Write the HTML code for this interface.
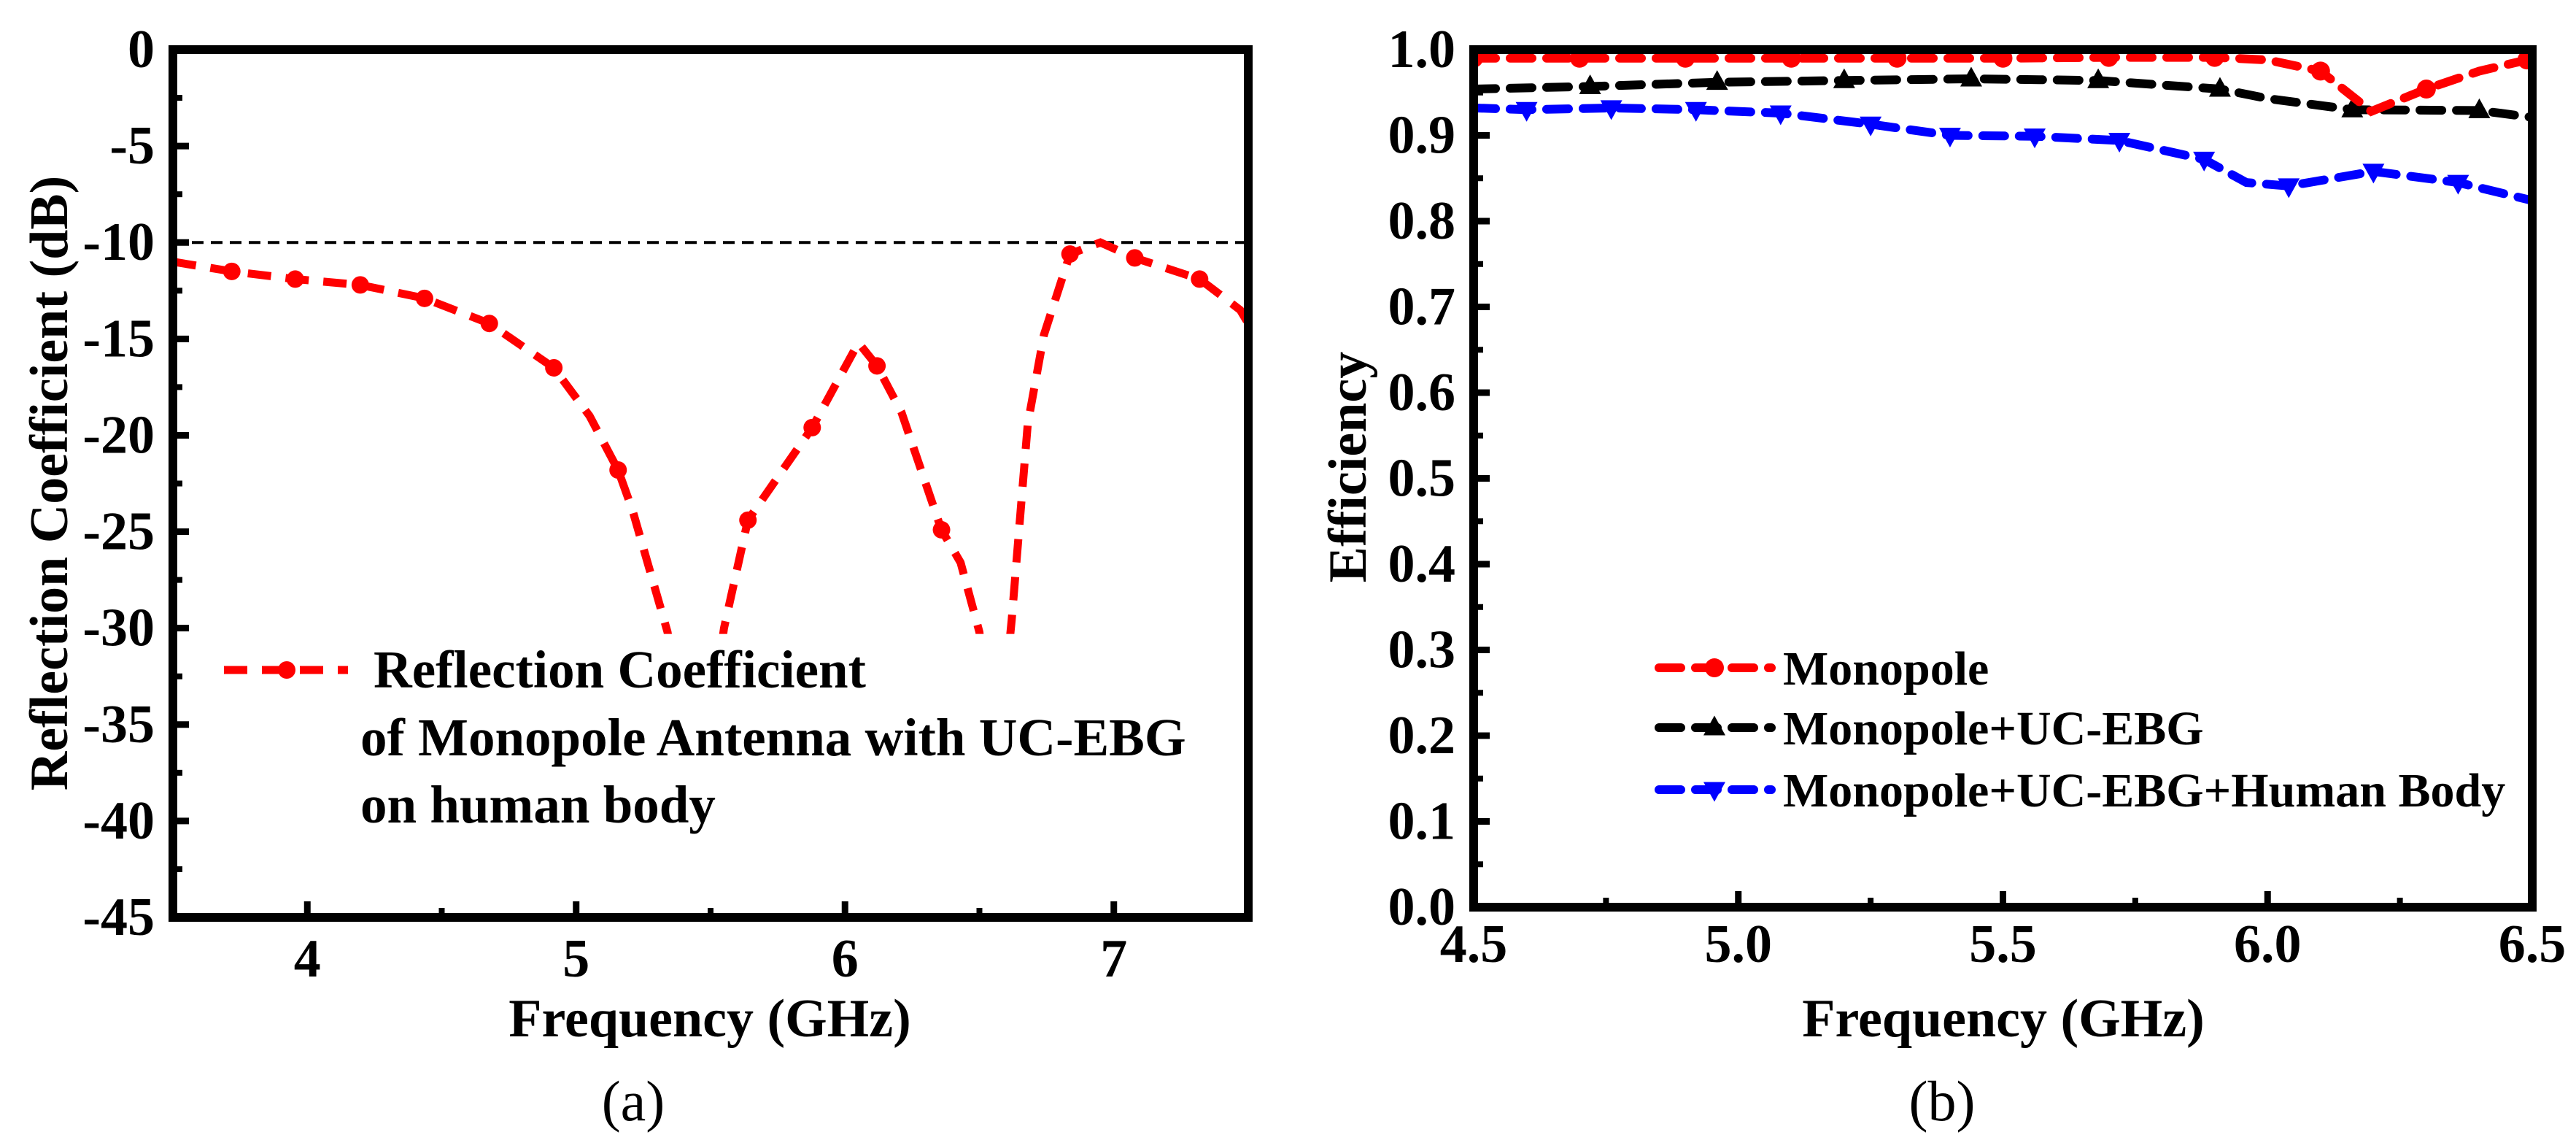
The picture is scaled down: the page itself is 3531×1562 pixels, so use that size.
<!DOCTYPE html>
<html><head><meta charset="utf-8">
<style>
html,body{margin:0;padding:0;background:#fff;}
svg{display:block;}
svg text{font-family:"Liberation Serif","Times New Roman","DejaVu Serif",serif;}
</style></head>
<body>
<svg id="fig" width="3531" height="1562" viewBox="0 0 3531 1562" xmlns="http://www.w3.org/2000/svg">
<defs>
<clipPath id="clipA"><rect x="237" y="68" width="1474" height="1189"/></clipPath>
<clipPath id="clipB"><rect x="2020" y="68" width="1451" height="1175"/></clipPath>
</defs>
<g id="panelA"></g>
<g id="panelB"></g>
</svg>
<script>
// ---- Panel (a) data ----
const aFreq = [3.5,3.719,3.955,4.197,4.436,4.677,4.917,5.05,5.156,5.21,5.34,5.45,5.55,5.639,5.878,6.05,6.119,6.21,6.359,6.43,6.50,6.56,6.62,6.68,6.74,6.837,6.95,7.078,7.319,7.47,7.5];
const aDb   = [-11.0,-11.5,-11.9,-12.2,-12.9,-14.2,-16.5,-19.0,-21.8,-23.9,-30.2,-40,-30.0,-24.4,-19.6,-15.2,-16.4,-18.8,-24.9,-26.6,-30.2,-38,-29.6,-19.4,-14.8,-10.6,-10.0,-10.8,-11.9,-13.5,-14.2];
const aMarkFreq = [3.719,3.955,4.197,4.436,4.677,4.917,5.156,5.639,5.878,6.119,6.359,6.837,7.078,7.319];
const aMarkDb   = [-11.5,-11.9,-12.2,-12.9,-14.2,-16.5,-21.8,-24.4,-19.6,-16.4,-24.9,-10.6,-10.8,-11.9];
const aXTicks = [4,5,6,7];
const aYTicks = [0,-5,-10,-15,-20,-25,-30,-35,-40,-45];
const aRefLevel = -10;

// ---- Panel (b) data ----
const bRedF = [4.5,4.70,4.90,5.10,5.30,5.50,5.70,5.90,6.00,6.10,6.196,6.30,6.40,6.49,6.5];
const bRedV = [0.990,0.990,0.990,0.990,0.990,0.990,0.991,0.991,0.988,0.975,0.928,0.954,0.975,0.988,0.988];
const bRedMF = [4.5,4.70,4.90,5.10,5.30,5.50,5.70,5.90,6.10,6.30,6.49];
const bRedMV = [0.990,0.990,0.990,0.990,0.990,0.990,0.991,0.991,0.975,0.954,0.988];
const bBlkF = [4.5,4.72,4.96,5.20,5.44,5.68,5.91,6.00,6.16,6.40,6.5];
const bBlkV = [0.954,0.957,0.962,0.964,0.966,0.964,0.954,0.943,0.930,0.929,0.921];
const bBlkMF = [4.72,4.96,5.20,5.44,5.68,5.91,6.16,6.40];
const bBlkMV = [0.957,0.962,0.964,0.966,0.964,0.954,0.930,0.929];
const bBluF = [4.5,4.60,4.76,4.92,5.08,5.25,5.40,5.56,5.72,5.88,5.96,6.04,6.20,6.36,6.5];
const bBluV = [0.932,0.930,0.932,0.930,0.926,0.913,0.900,0.899,0.894,0.872,0.845,0.841,0.858,0.845,0.824];
const bBluMF = [4.60,4.76,4.92,5.08,5.25,5.40,5.56,5.72,5.88,6.04,6.20,6.36];
const bBluMV = [0.930,0.932,0.930,0.926,0.913,0.900,0.899,0.894,0.872,0.841,0.858,0.845];
const bXTicks = [4.5,5.0,5.5,6.0,6.5];
const bYTicks = [0,0.1,0.2,0.3,0.4,0.5,0.6,0.7,0.8,0.9,1.0];

const NS = "http://www.w3.org/2000/svg";
function mk(parent, tag, attrs, text){
  const e = document.createElementNS(NS, tag);
  for (const k in attrs) e.setAttribute(k, attrs[k]);
  if (text !== undefined) e.textContent = text;
  parent.appendChild(e);
  return e;
}
const axA = {x0:237, x1:1711, y0:68, y1:1257, fmin:3.5, fmax:7.5, vmin:-45, vmax:0};
const axB = {x0:2020, x1:3471, y0:68, y1:1243, fmin:4.5, fmax:6.5, vmin:0, vmax:1};
function sx(ax, f){ return ax.x0 + (f-ax.fmin)/(ax.fmax-ax.fmin)*(ax.x1-ax.x0); }
function sy(ax, v){ return ax.y1 - (v-ax.vmin)/(ax.vmax-ax.vmin)*(ax.y1-ax.y0); }

function pathD(ax, fs, vs){
  return fs.map((f,i)=>(i?'L':'M')+sx(ax,f).toFixed(1)+','+sy(ax,vs[i]).toFixed(1)).join(' ');
}
function triUp(cx,cy,r){ return `M${cx},${cy-r*1.1} L${cx+r},${cy+r*0.7} L${cx-r},${cy+r*0.7} Z`; }
function triDn(cx,cy,r){ return `M${cx},${cy+r*1.1} L${cx+r},${cy-r*0.7} L${cx-r},${cy-r*0.7} Z`; }

function drawFrame(g, ax, xTicks, yTicks, xFmt, yFmt, xLabY){
  for (let i=0;i<xTicks.length;i++){
    const x = sx(ax,xTicks[i]);
    const t = mk(g,'line',{x1:x,y1:ax.y1,x2:x,y2:ax.y1-22,stroke:'#000','stroke-width':9});
    
    
    const lb = mk(g,'text',{x:x,y:xLabY,'text-anchor':'middle','font-size':74,'font-weight':'bold'},xFmt(xTicks[i]));
    
    
  }
  const xs = xTicks[1]-xTicks[0];
  for (let f=xTicks[0]-xs/2; f<ax.fmax; f+=xs){
    if (f<=ax.fmin) continue;
    const x = sx(ax,f);
    const t = mk(g,'line',{x1:x,y1:ax.y1,x2:x,y2:ax.y1-13,stroke:'#000','stroke-width':8});
    
    
  }
  for (let i=0;i<yTicks.length;i++){
    const y = sy(ax,yTicks[i]);
    const t = mk(g,'line',{x1:ax.x0,y1:y,x2:ax.x0+22,y2:y,stroke:'#000','stroke-width':9});
    
    
    const lb = mk(g,'text',{x:ax.x0-25,y:y+24,'text-anchor':'end','font-size':74,'font-weight':'bold'},yFmt(yTicks[i]));
    
    
  }
  const ys = Math.abs(yTicks[1]-yTicks[0]);
  for (let v=ax.vmin+ys/2; v<ax.vmax; v+=ys){
    const y = sy(ax,v);
    const t = mk(g,'line',{x1:ax.x0,y1:y,x2:ax.x0+13,y2:y,stroke:'#000','stroke-width':8});
    
    
  }
  const r = mk(g,'rect',{x:ax.x0,y:ax.y0,width:ax.x1-ax.x0,height:ax.y1-ax.y0,fill:'none',stroke:'#000','stroke-width':12});
  
  
}

// ---------- Panel A ----------
const gA = document.getElementById('panelA');
const refY = sy(axA, aRefLevel);
const ref = mk(gA,'line',{x1:axA.x0,y1:refY,x2:axA.x1,y2:refY,stroke:'#000','stroke-width':4,'stroke-dasharray':'16,10'});


const gAc = mk(gA,'g',{'clip-path':'url(#clipA)'});


const clipLow = mk(document.querySelector('defs'),'clipPath',{id:'clipA30'});
mk(clipLow,'rect',{x:axA.x0,y:axA.y0,width:axA.x1-axA.x0,height:sy(axA,-30.3)-axA.y0});
const lnA = mk(gAc,'path',{d:pathD(axA,aFreq,aDb),fill:'none',stroke:'#ff0000','stroke-width':11,'stroke-dasharray':'32,20','clip-path':'url(#clipA30)'});


for (let i=0;i<aMarkFreq.length;i++){
  const c = mk(gAc,'circle',{cx:sx(axA,aMarkFreq[i]),cy:sy(axA,aMarkDb[i]),r:12,fill:'#ff0000'});
  
  
}
drawFrame(gA, axA, aXTicks, aYTicks, v=>String(v), v=>String(v), 1338);
const tA = mk(gA,'text',{x:973,y:1420,'text-anchor':'middle','font-size':74,'font-weight':'bold'},'Frequency (GHz)');


const yA = mk(gA,'text',{x:0,y:0,transform:'translate(92,662) rotate(-90)','text-anchor':'middle','font-size':74,'font-weight':'bold','xml:space':'preserve'},'Reflection Coefficient  (dB)');


const lgA = mk(gA,'g',{});


mk(lgA,'line',{x1:307,y1:918,x2:477,y2:918,stroke:'#ff0000','stroke-width':11,'stroke-dasharray':'32,20'});
mk(lgA,'circle',{cx:393,cy:918,r:12,fill:'#ff0000'});
mk(lgA,'text',{x:512,y:942,'font-size':73,'font-weight':'bold'},'Reflection Coefficient');
mk(lgA,'text',{x:494,y:1035,'font-size':73,'font-weight':'bold'},'of Monopole Antenna with UC-EBG');
mk(lgA,'text',{x:494,y:1127,'font-size':73,'font-weight':'bold'},'on human body');
const capA = mk(gA,'text',{x:868,y:1535,'text-anchor':'middle','font-size':78},'(a)');



// ---------- Panel B ----------
const gB = document.getElementById('panelB');
const gBc = mk(gB,'g',{'clip-path':'url(#clipB)'});


const series = [
  {f:bBluF,v:bBluV,mf:bBluMF,mv:bBluMV,col:'#0000ff',m:'dn',name:'human-body'},
  {f:bBlkF,v:bBlkV,mf:bBlkMF,mv:bBlkMV,col:'#000000',m:'up',name:'uc-ebg'},
  {f:bRedF,v:bRedV,mf:bRedMF,mv:bRedMV,col:'#ff0000',m:'c',name:'monopole'}
];
for (const s of series){
  const p = mk(gBc,'path',{d:pathD(axB,s.f,s.v),fill:'none',stroke:s.col,'stroke-width':12,'stroke-dasharray':'30,20','stroke-linecap':'round'});
  
  
  for (let i=0;i<s.mf.length;i++){
    const cx = sx(axB,s.mf[i]), cy = sy(axB,s.mv[i]);
    let e;
    if (s.m==='c') e = mk(gBc,'circle',{cx:cx,cy:cy,r:13,fill:s.col});
    else if (s.m==='up') e = mk(gBc,'path',{d:triUp(cx,cy,15),fill:s.col});
    else e = mk(gBc,'path',{d:triDn(cx,cy,15),fill:s.col});
    
    
  }
}
drawFrame(gB, axB, bXTicks, bYTicks, v=>v.toFixed(1), v=>v.toFixed(1), 1318);
const tB = mk(gB,'text',{x:2746,y:1420,'text-anchor':'middle','font-size':74,'font-weight':'bold'},'Frequency (GHz)');


const yB = mk(gB,'text',{x:0,y:0,transform:'translate(1872,640) rotate(-90)','text-anchor':'middle','font-size':74,'font-weight':'bold'},'Efficiency');


const legB = [
  {col:'#ff0000',m:'c',label:'Monopole',y:915},
  {col:'#000000',m:'up',label:'Monopole+UC-EBG',y:997},
  {col:'#0000ff',m:'dn',label:'Monopole+UC-EBG+Human Body',y:1082}
];
for (const L of legB){
  const g = mk(gB,'g',{});
  
  
  mk(g,'line',{x1:2274,y1:L.y,x2:2428,y2:L.y,stroke:L.col,'stroke-width':12,'stroke-dasharray':'30,20','stroke-linecap':'round'});
  if (L.m==='c') mk(g,'circle',{cx:2350,cy:L.y,r:13,fill:L.col});
  else if (L.m==='up') mk(g,'path',{d:triUp(2350,L.y,15),fill:L.col});
  else mk(g,'path',{d:triDn(2350,L.y,15),fill:L.col});
  mk(g,'text',{x:2444,y:L.y+23,'font-size':66,'font-weight':'bold'},L.label);
}
const capB = mk(gB,'text',{x:2662,y:1535,'text-anchor':'middle','font-size':78},'(b)');


</script>
</body></html>
